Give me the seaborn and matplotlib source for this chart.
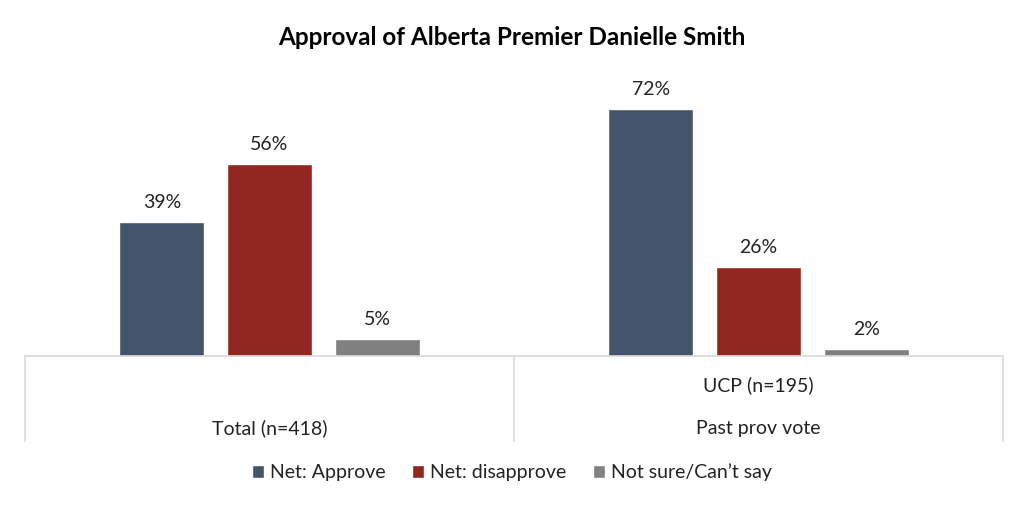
import pandas as pd
import seaborn as sns
import matplotlib.pyplot as plt
import matplotlib.transforms as mtransforms

# data
groups = ['Total', 'UCP']
series = ['Net: Approve', 'Net: disapprove', 'Not sure/Can\u2019t say']
approve = [39, 72]
disapprove = [56, 26]
not_sure = [5, 2]
colors = ['#44546A', '#922620', '#808080']

df = pd.DataFrame({
    'group': groups * 3,
    'series': [series[0]] * 2 + [series[1]] * 2 + [series[2]] * 2,
    'value': approve + disapprove + not_sure,
})

sns.set_style('white')
plt.rcParams['font.family'] = ['Lato', 'DejaVu Sans']

fig = plt.figure(figsize=(10.24, 5.08), dpi=100)
ax = fig.add_axes([0.0244, 0.2992, 0.9551, 0.5394])

sns.barplot(data=df, x='group', y='value', hue='series', palette=colors,
            saturation=1, width=0.66, gap=0.21, ax=ax, legend=True)

for c in ax.containers:
    ax.bar_label(c, labels=['{:.0f}%'.format(v) for v in c.datavalues],
                 padding=8, fontsize=14, color='#222222')

ax.set_xlim(-0.5, 1.5)
ax.set_ylim(0, 80)
ax.set_xlabel('')
ax.set_ylabel('')
ax.set_xticks([])
ax.set_yticks([])
for s in ['top', 'right', 'left']:
    ax.spines[s].set_visible(False)
ax.spines['bottom'].set_color('#d9d9d9')
ax.spines['bottom'].set_linewidth(1.2)

# category table under the axis
trans = mtransforms.blended_transform_factory(ax.transData, ax.transAxes)
for xv in [-0.5, 0.5, 1.5]:
    ax.plot([xv, xv], [0, -0.31], transform=trans, color='#d9d9d9',
            lw=1.2, clip_on=False)
ax.text(0, -0.265, 'Total (n=418)', transform=trans, ha='center', va='center',
        fontsize=14, color='#222222')
ax.text(1, -0.105, 'UCP (n=195)', transform=trans, ha='center', va='center',
        fontsize=14, color='#222222')
ax.text(1, -0.265, 'Past prov vote', transform=trans, ha='center', va='center',
        fontsize=14, color='#222222')

leg = ax.legend(loc='center', bbox_to_anchor=(0.5, 0.07), bbox_transform=fig.transFigure,
                ncol=3, frameon=False, fontsize=14, handlelength=0.6,
                handleheight=0.6, handletextpad=0.3, columnspacing=1.4)
for t in leg.get_texts():
    t.set_color('#222222')

fig.text(0.5, 0.927, 'Approval of Alberta Premier Danielle Smith', ha='center',
         va='center', fontsize=17.5, fontweight='bold', color='black')

fig.savefig('out.png', dpi=100)
